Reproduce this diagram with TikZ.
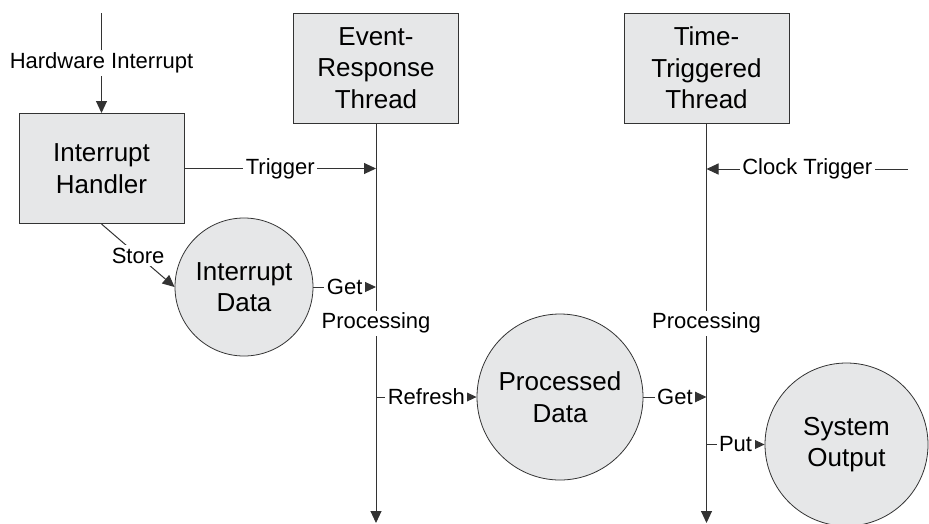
\documentclass[tikz,border=0pt]{standalone}
\usepackage{fontspec}
\setmainfont{Liberation Sans}
\usetikzlibrary{shapes,arrows.meta}
\definecolor{boxfill}{HTML}{E6E7E8}
\definecolor{ink}{HTML}{333333}
\tikzstyle{block} = [rectangle, draw=ink, fill=boxfill, line width=1pt, text width=150pt, align=center, minimum width=165pt, minimum height=110pt, font=\fontsize{26}{31.5}\selectfont]
\tikzstyle{store} = [circle, draw=ink, fill=boxfill, line width=0.8pt, align=center, inner sep=0pt, font=\fontsize{26}{31.5}\selectfont]
\tikzstyle{line} = [draw=ink, line width=1pt, -{Triangle[length=12pt,width=11pt]}]
\tikzstyle{tag} = [fill=white, inner sep=2.5pt, font=\fontsize{22}{26}\selectfont]

\begin{document}
\begin{tikzpicture}[x=1pt, y=1pt, node distance=330.5pt]
	\useasboundingbox (0,0) rectangle (929,-523);
	\node [block] (handler) at (101.5,-168.5) {Interrupt\\Handler};
	\node [block] (event) at (376,-68) {Event-\\Response\\Thread};
	\node [block, right of=event] (timed) {Time-\\Triggered\\Thread};
	\node [store, minimum size=138pt] (idata) at (244,-287) {Interrupt\\Data};
	\node [store, minimum size=166pt] (pdata) at (560,-397) {Processed\\Data};
	\node [store, minimum size=163pt] (output) at (846.5,-444.5) {System\\Output};
	\coordinate (hw) at (101.5,-13);
	\coordinate (clock) at (908,-169);
	\coordinate (erend) at (376,-523);
	\coordinate [right of=erend] (ttend);
	% thread lifelines
	\path [line] (event) -- node [tag] {Processing} (erend);
	\path [line] (timed) -- node [tag] {Processing} (ttend);
	% triggers
	\path [line] (hw) -- node [tag] {Hardware Interrupt} (handler);
	\path [line] (handler) -- node [tag] {Trigger} (handler -| event);
	\path [line] (clock) -- node [tag] {Clock Trigger} (clock -| timed);
	% data flow
	\path [line] (handler.south) -- node [tag] {Store} (idata.west);
	\path [line] (idata) -- node [tag] {Get} (idata -| event);
	\path [line] (pdata -| event) -- node [tag] {Refresh} (pdata);
	\path [line] (pdata) -- node [tag] {Get} (pdata -| timed);
	\path [line] (output -| timed) -- node [tag] {Put} (output);
\end{tikzpicture}
\end{document}
